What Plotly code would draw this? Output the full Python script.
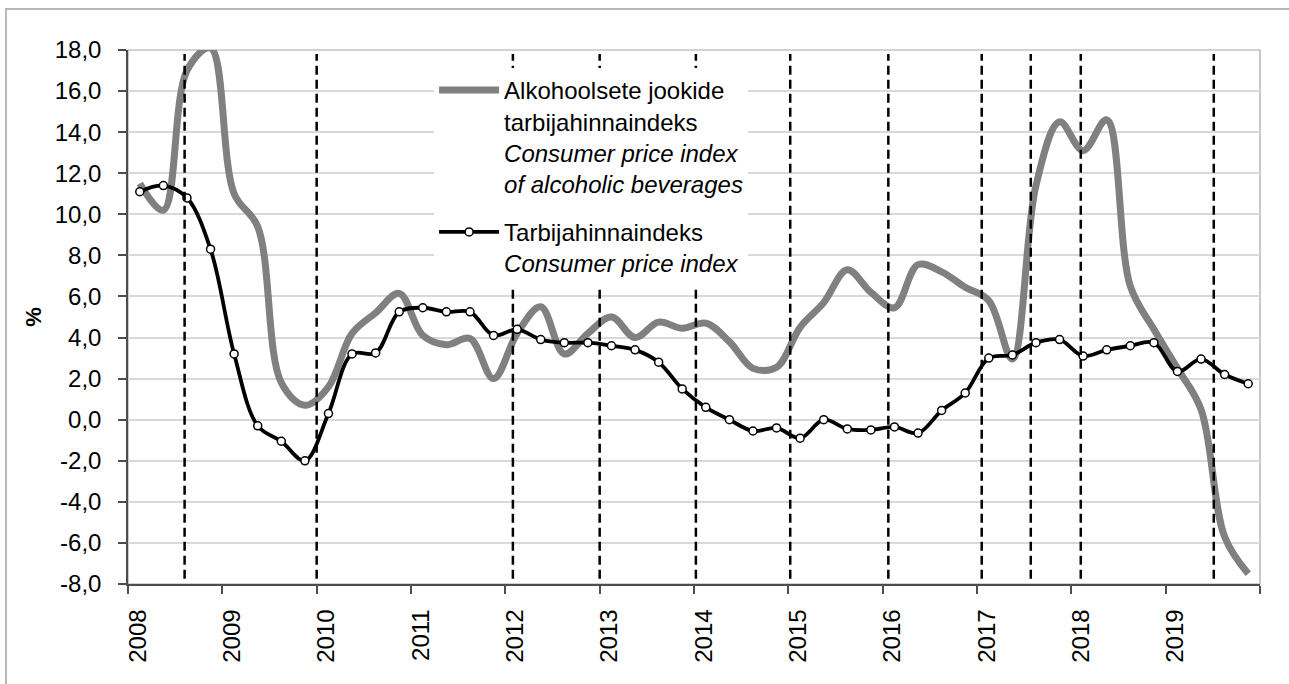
import plotly.graph_objects as go

# ---- data ----
years = list(range(2008, 2020))
quarters = [1, 2, 3, 4]

cpi = [11.1, 11.4, 10.8, 8.3,
       3.2, -0.3, -1.05, -2.0,
       0.3, 3.2, 3.25, 5.25,
       5.45, 5.25, 5.25, 4.1,
       4.4, 3.9, 3.75, 3.75,
       3.6, 3.4, 2.8, 1.5,
       0.6, 0.0, -0.55, -0.4,
       -0.9, 0.0, -0.45, -0.5,
       -0.35, -0.65, 0.45, 1.3,
       3.0, 3.15, 3.75, 3.9,
       3.1, 3.4, 3.6, 3.75,
       2.35, 2.95, 2.2, 1.75]

alcohol_cpi = [11.5, 10.2, 17.0, 18.1,
               11.0, 9.4, 1.8, 0.7,
               1.6, 4.2, 5.2, 6.15,
               4.1, 3.65, 3.95, 2.0,
               4.2, 5.5, 3.2, 4.2,
               5.0, 4.0, 4.75, 4.45,
               4.7, 3.8, 2.5, 2.55,
               4.5, 5.7, 7.3, 6.2,
               5.45, 7.55, 7.2, 6.45,
               5.8, 2.95, 11.4, 14.5,
               13.1, 14.6, 6.5, 4.4,
               2.5, 0.5, -5.7, -7.5]

# dates of marked changes (dashed vertical lines), decimal years
marker_dates = [2008.6, 2010.0, 2012.08, 2013.0, 2014.02, 2015.02,
                2016.06, 2017.05, 2017.57, 2018.1, 2019.51]

x_tick_vals = list(range(2008, 2021))
x_tick_text = [str(y) for y in range(2008, 2020)] + [""]
y_tick_vals = list(range(-8, 19, 2))
y_tick_text = ["-8,0", "-6,0", "-4,0", "-2,0", "0,0", "2,0", "4,0", "6,0",
               "8,0", "10,0", "12,0", "14,0", "16,0", "18,0"]

name_alc = ("Alkohoolsete jookide<br>tarbijahinnaindeks<br>"
            "<i>Consumer price index</i><br><i>of alcoholic beverages</i>")
name_cpi = "Tarbijahinnaindeks<br><i>Consumer price index</i>"

# quarter mid-points on a decimal-year axis
x_q = [y + (q - 0.5) / 4 for y in years for q in quarters]

FONT = "Liberation Sans, Arial, sans-serif"

fig = go.Figure()
fig.add_trace(go.Scatter(
    x=x_q, y=alcohol_cpi, mode="lines", name=name_alc,
    line=dict(color="#808080", width=7, shape="spline", smoothing=1),
    legendgroup="a"))
fig.add_trace(go.Scatter(
    x=x_q, y=cpi, mode="lines+markers", name=name_cpi,
    line=dict(color="#000000", width=3.8, shape="spline", smoothing=1),
    marker=dict(symbol="circle", size=8, color="white",
                line=dict(color="black", width=1.5)),
    legendgroup="b"))

shapes = []
# outer frame
shapes.append(dict(type="rect", xref="paper", yref="paper",
                   x0=-0.1078, x1=1.05, y0=-0.25, y1=1.0768,
                   line=dict(color="#a0a0a0", width=1.5), layer="below"))
# plot area border
shapes.append(dict(type="rect", xref="paper", yref="paper",
                   x0=0, x1=1, y0=0, y1=1,
                   line=dict(color="#a6a6a6", width=1.2), layer="below"))
for d in marker_dates:
    shapes.append(dict(type="line", xref="x", yref="y",
                       x0=d, x1=d, y0=-7.75, y1=17.8,
                       line=dict(color="black", width=2.5, dash="9px,5px"),
                       layer="above"))

fig.update_layout(
    width=1289, height=684,
    margin=dict(l=128, r=29, t=50, b=100),
    paper_bgcolor="white", plot_bgcolor="white",
    font=dict(family=FONT, size=24, color="black"),
    shapes=shapes,
    showlegend=True,
    legend=dict(x=0.2704, y=0.9663, xanchor="left", yanchor="top",
                bgcolor="white", borderwidth=0,
                font=dict(family=FONT, size=24, color="black"),
                itemwidth=60, valign="top",
                tracegroupgap=14, traceorder="grouped"),
    xaxis=dict(range=[2008, 2020], tickmode="array",
               tickvals=x_tick_vals, ticktext=x_tick_text,
               tickangle=-90, ticks="outside", ticklen=8, tickwidth=1.5,
               tickcolor="#4d4d4d", showline=True, linecolor="#4d4d4d",
               linewidth=1.5, showgrid=False, zeroline=False,
               ticklabelshift=10, ticklabelstandoff=6,
               tickfont=dict(family=FONT, size=24, color="black")),
    yaxis=dict(range=[-8, 18], tickmode="array",
               tickvals=y_tick_vals, ticktext=y_tick_text,
               ticks="outside", ticklen=8, tickwidth=1.5,
               tickcolor="#4d4d4d", showline=True, linecolor="#4d4d4d",
               linewidth=1.5, showgrid=True, gridcolor="#d9d9d9",
               gridwidth=1.5, zeroline=False, ticklabelstandoff=12,
               tickfont=dict(family=FONT, size=24, color="black"),
               title=dict(text="<b>%</b>", standoff=7,
                          font=dict(family=FONT, size=22, color="black"))),
)

fig.write_html("out.html",
               config={"displayModeBar": False},
               post_script="document.body.style.margin='0';")
